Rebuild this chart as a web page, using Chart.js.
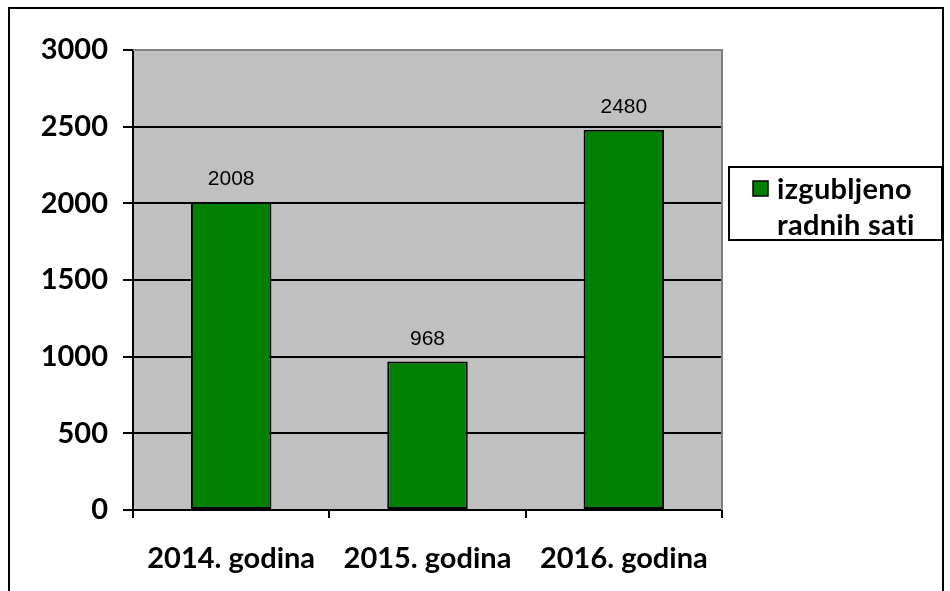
<!DOCTYPE html>
<html lang="hr">
  <head>
    <meta charset="UTF-8" />
    <title>Izgubljeno radnih sati</title>
    <style>
      html, body { margin: 0; padding: 0; background: #fff; }
      .wrap { width: 950px; height: 591px; }
    </style>
  </head>
  <body>
    <div class="wrap"><canvas id="myChart" width="950" height="591"></canvas></div>
    <script src="https://cdn.jsdelivr.net/npm/chart.js"></script>
    <script>
      const years = ["2014. godina", "2015. godina", "2016. godina"];
      const hours = [2008, 968, 2480];
      const seriesName = ["izgubljeno", "radnih sati"];
      const yTicks = [0, 500, 1000, 1500, 2000, 2500, 3000];

      const labelFont = "bold 29px Lato, Carlito, sans-serif";

      // frame, gray plot area, value labels and the two line legend
      const decor = {
        id: "decor",
        beforeDraw(chart) {
          const { ctx, chartArea: a } = chart;
          ctx.save();
          ctx.fillStyle = "#fff";
          ctx.fillRect(0, 0, chart.width, chart.height);
          ctx.fillStyle = "#c0c0c0";
          ctx.fillRect(a.left, a.top, a.right - a.left, a.bottom - a.top);
          ctx.restore();
        },
        beforeDatasetsDraw(chart) {
          const { ctx, chartArea: a } = chart;
          ctx.save();
          ctx.strokeStyle = "#808080";
          ctx.lineWidth = 2;
          ctx.beginPath();
          ctx.moveTo(a.left, a.top);
          ctx.lineTo(a.right, a.top);
          ctx.lineTo(a.right, a.bottom);
          ctx.stroke();
          ctx.restore();
        },
        afterDatasetsDraw(chart) {
          const { ctx } = chart;
          const meta = chart.getDatasetMeta(0);
          ctx.save();
          ctx.fillStyle = "#000";
          ctx.font = "21px 'Liberation Sans', Arial, sans-serif";
          ctx.textAlign = "center";
          ctx.textBaseline = "alphabetic";
          meta.data.forEach((bar, i) => {
            ctx.fillText(String(hours[i]), bar.x, bar.y - 17);
          });
          ctx.restore();
        },
        afterDraw(chart) {
          const { ctx } = chart;
          ctx.save();
          ctx.strokeStyle = "#000";
          ctx.lineWidth = 2;
          ctx.strokeRect(9, 8, 934, 620);
          // legend
          ctx.strokeRect(729, 167, 213, 73);
          ctx.fillStyle = chart.data.datasets[0].backgroundColor;
          ctx.fillRect(753, 181, 15, 15);
          ctx.lineWidth = 1.5;
          ctx.strokeRect(753, 181, 15, 15);
          ctx.fillStyle = "#000";
          ctx.font = labelFont;
          ctx.letterSpacing = "0.3px";
          ctx.textAlign = "left";
          ctx.textBaseline = "alphabetic";
          ctx.fillText(seriesName[0], 777, 199);
          ctx.fillText(seriesName[1], 777, 235);
          ctx.restore();
        },
      };

      const tickFont = { family: "Lato", size: 29, weight: "bold" };

      const myChart = new Chart(document.getElementById("myChart"), {
        type: "bar",
        data: {
          labels: years,
          datasets: [
            {
              label: seriesName.join(" "),
              data: hours,
              backgroundColor: "#008000",
              borderColor: "#000",
              borderWidth: 2,
              borderSkipped: false,
              barPercentage: 0.41,
              categoryPercentage: 1,
            },
          ],
        },
        options: {
          responsive: false,
          animation: false,
          layout: { padding: { left: 0, top: 50, right: 228, bottom: 0 } },
          plugins: { legend: { display: false }, tooltip: { enabled: false } },
          scales: {
            x: {
              afterFit(s) { s.height = 81; },
              grid: {
                offset: true,
                drawOnChartArea: false,
                color: "#000",
                lineWidth: 2,
                tickLength: 8,
              },
              border: { color: "#000", width: 2 },
              ticks: { color: "#000", font: tickFont, padding: 23 },
            },
            y: {
              min: yTicks[0],
              max: yTicks[yTicks.length - 1],
              afterFit(s) { s.width = 133; },
              afterBuildTicks(s) { s.ticks = yTicks.map((v) => ({ value: v })); },
              grid: { color: "#000", lineWidth: 2, tickLength: 10 },
              border: { color: "#000", width: 2 },
              ticks: {
                color: "#000",
                font: tickFont,
                padding: 15,
                callback: (v) => String(v),
              },
            },
          },
        },
        plugins: [decor],
      });
    </script>
  </body>
</html>
